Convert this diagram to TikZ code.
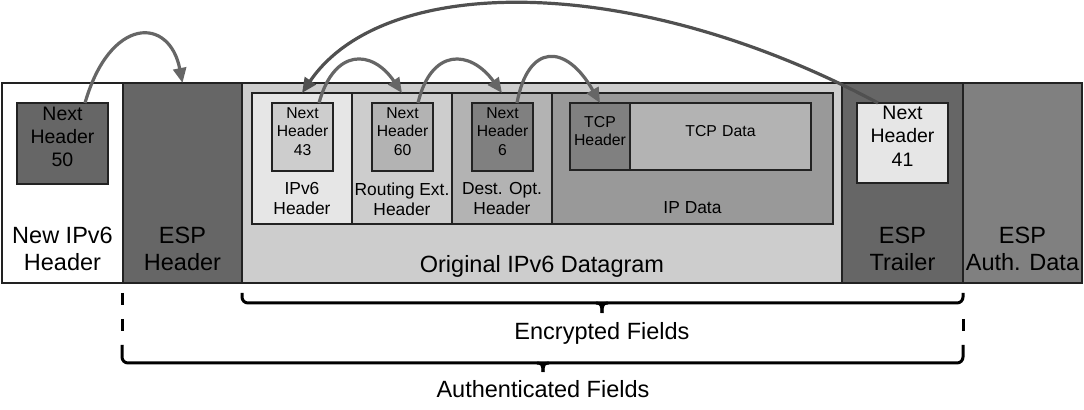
\documentclass[tikz,border=0pt]{standalone}
\usepackage{fontspec}
\setmainfont{Liberation Sans}
\usetikzlibrary{arrows.meta,fit,calc}
\definecolor{gA}{HTML}{666666}
\definecolor{gB}{HTML}{808080}
\definecolor{gC}{HTML}{999999}
\definecolor{gD}{HTML}{B3B3B3}
\definecolor{gE}{HTML}{CDCDCD}
\definecolor{gF}{HTML}{E6E6E6}
\definecolor{arr}{HTML}{666666}
\definecolor{arrdark}{HTML}{505050}
\definecolor{edge}{HTML}{222222}
\begin{document}
\begin{tikzpicture}[x=0.5pt, y=-0.5pt,
  box/.style={draw=edge, line width=1pt, inner sep=0pt, outer sep=0pt},
  lbl/.style={inner sep=0pt, outer sep=0pt, align=center, text=black},
  big/.style={font=\fontsize{11.75pt}{13.4pt}\selectfont},
  nhL/.style={font=\fontsize{9.75pt}{11.65pt}\selectfont},
  nhS/.style={font=\fontsize{7.85pt}{9.35pt}\selectfont},
  mid/.style={font=\fontsize{8.7pt}{10pt}\selectfont},
  tcp/.style={font=\fontsize{7.9pt}{9.2pt}\selectfont},
  ptr/.style={draw=arr, line width=1.6pt, -{Triangle[length=7.5pt,width=6.5pt]}},
  ptrdark/.style={ptr, draw=arrdark},
  brk/.style={draw=black, line width=1.5pt}]
\useasboundingbox (0,0) rectangle (1084,410);

% main row
\node[box, fill=white, fit={(2,83)(123,283)}] (newhdr) {};
\node[box, fill=gA, fit={(123,83)(242,283)}] (esphdr) {};
\node[box, fill=gE, fit={(242,83)(842,283)}] (orig) {};
\node[box, fill=gA, fit={(842,83)(963,283)}] (esptrl) {};
\node[box, fill=gB, fit={(963,83)(1082,283)}] (espauth) {};

% inner row
\node[box, fill=gF, fit={(252,93)(352,224)}] (ipv6) {};
\node[box, fill=gE, fit={(352,93)(452,224)}] (rout) {};
\node[box, fill=gD, fit={(452,93)(552,224)}] (dest) {};
\node[box, fill=gC, fit={(552,93)(833,224)}] (ipdata) {};

% next header boxes
\node[box, fill=gA, fit={(17,103)(108,184)}, lbl, nhL] (nh50) {Next\\Header\\50};
\node[box, fill=gE, fit={(272,103)(333,171)}, lbl, nhS] (nh43) {Next\\Header\\43};
\node[box, fill=gD, fit={(372,103)(433,171)}, lbl, nhS] (nh60) {Next\\Header\\60};
\node[box, fill=gB, fit={(472,103)(533,171)}, lbl, nhS] (nh6) {Next\\Header\\6};
\node[box, fill=gB, fit={(570,103)(630,170)}, lbl, tcp] (tcphdr) {TCP\\Header};
\node[box, fill=gD, fit={(630,103)(811,170)}, lbl, tcp] (tcpdata) {TCP Data};
\node[box, fill=gF, fit={(857,103)(948,183)}, lbl, nhL] (nh41) {Next\\Header\\41};

% labels
\node[lbl, big] (tNew) at (62.5,249) {New IPv6\\Header};
\node[lbl, big] (tEspH) at (182.5,249) {ESP\\Header};
\node[lbl, big] (tOrig) at (542,266) {Original IPv6 Datagram};
\node[lbl, big] (tEspT) at (902.5,249) {ESP\\Trailer};
\node[lbl, big] (tEspA) at (1022.5,249) {ESP\\Auth. Data};
\node[lbl, mid] (tIPv6) at (302,199) {IPv6\\Header};
\node[lbl, mid] (tRout) at (402,199) {Routing Ext.\\Header};
\node[lbl, mid] (tDest) at (502,199) {Dest. Opt.\\Header};
\node[lbl, mid] (tIPd) at (692.5,208) {IP Data};

% arrows
\draw[ptr] ($(nh50.north)+(22.5,0)$) .. controls +(25,-87) and +(-13,-67) .. (esphdr.north);
\draw[ptr] ($(nh43.north)+(16.5,0)$) .. controls +(15,-55) and +(-30,-44) .. (rout.north);
\draw[ptr] ($(nh60.north)+(15.5,0)$) .. controls +(13,-55) and +(-32,-44) .. (dest.north);
\draw[ptr] ($(nh6.north)+(14.5,0)$) .. controls +(11,-60) and +(-34,-60) .. (tcphdr.north);
\draw[ptrdark] ($(nh41.north)+(-24.5,0)$) .. controls +(-245,-131) and +(82,-120) .. (ipv6.north);

% braces
\draw[brk, rounded corners=3pt] (242,293) -- (242,303) -- (963,303) -- (963,293);
\draw[brk] (596,303) .. controls (601,303) and (602,305) .. (602,313);
\draw[brk] (608,303) .. controls (603,303) and (602,305) .. (602,313);
\draw[brk, rounded corners=3pt] (122,345) -- (122,363) -- (963,363) -- (963,345);
\draw[brk] (537,363) .. controls (542,363) and (543,365) .. (543,372);
\draw[brk] (549,363) .. controls (544,363) and (543,365) .. (543,372);
\draw[brk, dash pattern=on 6pt off 7pt] (122,293) -- (122,345);
\draw[brk] (963,319) -- (963,331);

\node[lbl, big] (tEnc) at (602,333) {Encrypted Fields};
\node[lbl, big] (tAuth) at (543,389) {Authenticated Fields};
\end{tikzpicture}
\end{document}
